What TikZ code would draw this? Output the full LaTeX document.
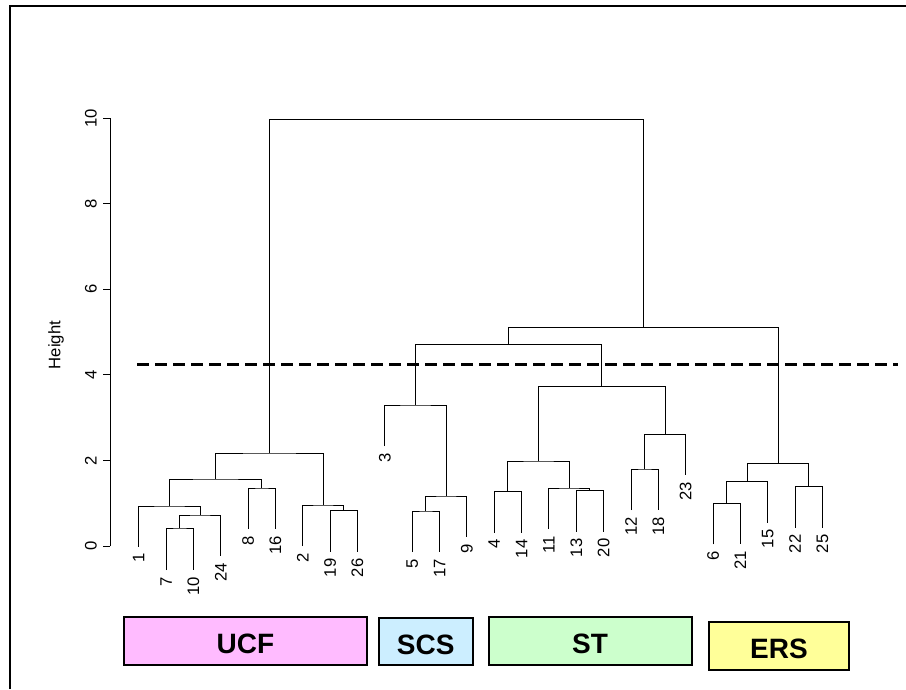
\documentclass[tikz,border=0pt]{standalone}
\usepackage{fontspec}
\setmainfont{Liberation Sans}
\definecolor{ucfc}{HTML}{FFBBFF}
\definecolor{scsc}{HTML}{CCEEFF}
\definecolor{stc}{HTML}{CCFFCC}
\definecolor{ersc}{HTML}{FFFF99}
\begin{document}
\begin{tikzpicture}[x=0.75pt,y=-0.75pt,
  dend/.style={line width=0.75pt},
  leaflab/.style={yshift=-5pt, rotate=90, anchor=east, inner sep=0pt, font=\fontsize{12.5}{15}\selectfont},
  ticklab/.style={rotate=90, anchor=south, inner sep=0pt, font=\fontsize{12.5}{15}\selectfont},
  grpbox/.style={draw, line width=1.5pt},
  grplab/.style={inner sep=0pt, font=\fontsize{21}{25}\selectfont\bfseries}]
\useasboundingbox (0,0) rectangle (906,689);
% frame
\draw[line width=1.5pt] (10,689) -- (10,5.7) -- (906,5.7);
% axis
\draw[line width=0.75pt] (110,546) -- (110,118);
\foreach \v/\yy in {0/546,2/460.4,4/374.8,6/289.2,8/203.6,10/118}{
  \draw[line width=0.75pt] (110,\yy) -- (103,\yy);
  \node[ticklab] (t\v) at (97,\yy) {\v};
}
\node[rotate=90, inner sep=0pt, font=\fontsize{12.5}{15}\selectfont] (ylab) at (56,345) {Height};
% leaves
\foreach \n/\x/\b in {1/138.7/546.7, 7/166.05/570, 10/193.4/570, 24/220.75/556,
  8/248.1/529, 16/275.45/529, 2/302.8/546, 19/330.15/551.7, 26/357.5/551.7,
  3/384.85/446, 5/412.2/552, 17/439.55/552, 9/466.9/537,
  4/494.25/532.7, 14/521.6/532.7, 11/548.95/529, 13/576.3/531.7, 20/603.65/531.7,
  12/631.0/510, 18/658.35/510, 23/685.7/475.3,
  6/713.05/544.3, 21/740.4/544.3, 15/767.75/522.7, 22/795.1/527.7, 25/822.45/527.7}{
  \coordinate (l\n) at (\x,\b);
  \node[leaflab] (n\n) at (l\n) {\n};
}
% merges
\coordinate (m7_10) at (179.725,528);
\coordinate (m7_24) at (200.24,515);
\coordinate (m1) at (169.47,506);
\coordinate (m8_16) at (261.775,488);
\coordinate (mA) at (215.62,479);
\coordinate (m19_26) at (343.825,510.7);
\coordinate (m2) at (323.31,505);
\coordinate (mUCF) at (269.47,453);
\coordinate (m5_17) at (425.875,511);
\coordinate (m9) at (446.39,496);
\coordinate (mSCS) at (415.62,405);
\coordinate (m4_14) at (507.925,491.7);
\coordinate (m13_20) at (589.975,490.7);
\coordinate (m11) at (569.46,488);
\coordinate (mB) at (538.69,461);
\coordinate (m12_18) at (644.675,469);
\coordinate (m23) at (665.19,434.3);
\coordinate (mST) at (601.94,386.7);
\coordinate (mC) at (508.78,344.3);
\coordinate (m6_21) at (726.725,503.3);
\coordinate (m15) at (747.24,481.7);
\coordinate (m22_25) at (808.775,486.7);
\coordinate (mERS) at (778.01,463.3);
\coordinate (mD) at (643.4,327.7);
\coordinate (root) at (456.4,119.5);
\foreach \a/\p/\b in {l7/m7_10/l10, m7_10/m7_24/l24, l1/m1/m7_24, l8/m8_16/l16,
  m1/mA/m8_16, l19/m19_26/l26, l2/m2/m19_26, mA/mUCF/m2,
  l5/m5_17/l17, m5_17/m9/l9, l3/mSCS/m9,
  l4/m4_14/l14, l13/m13_20/l20, l11/m11/m13_20, m4_14/mB/m11,
  l12/m12_18/l18, m12_18/m23/l23, mB/mST/m23, mSCS/mC/mST,
  l6/m6_21/l21, m6_21/m15/l15, l22/m22_25/l25, m15/mERS/m22_25,
  mC/mD/mERS, mUCF/root/mD}{
  \draw[dend] (\a) |- (\p) -| (\b);
}
% cut line
\coordinate (d1) at (137,364.5);
\coordinate (d2) at (898,364.5);
\draw[line width=1.9pt, dash pattern=on 9pt off 4.5pt] (d1) -- (d2);
% group boxes
\draw[grpbox, fill=ucfc] (124,617.3) rectangle (367,664.7);
\node[grplab] (ucf) at (245.5,644.3) {UCF};
\draw[grpbox, fill=scsc] (378.7,618.3) rectangle (472.7,665);
\node[grplab] (scs) at (425.7,644.8) {SCS};
\draw[grpbox, fill=stc] (489,617.3) rectangle (692,664.7);
\node[grplab] (st) at (590,644.3) {ST};
\draw[grpbox, fill=ersc] (709,622) rectangle (849.3,670);
\node[grplab] (ers) at (779,648.5) {ERS};
\end{tikzpicture}
\end{document}
